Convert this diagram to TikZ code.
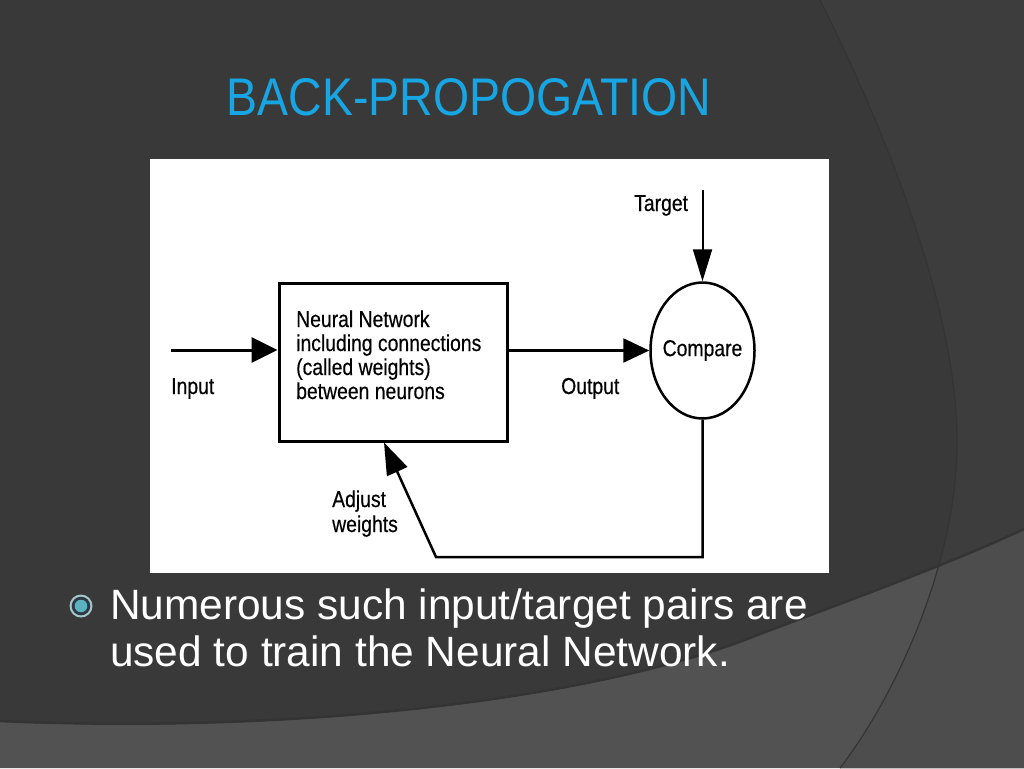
\documentclass[tikz,border=0pt]{standalone}
\usepackage{fontspec}
\setmainfont{Liberation Sans}
\newfontfamily\diagfont[FakeStretch=0.842,FakeBold=0.4]{Liberation Sans}
\newfontfamily\titlefont[FakeStretch=0.876]{Liberation Sans}
\usetikzlibrary{arrows.meta,shapes.geometric}
\definecolor{bgdark}{HTML}{393939}
\definecolor{bgright}{HTML}{3D3D3D}
\definecolor{bgbottom}{HTML}{525252}
\definecolor{bgbottomright}{HTML}{4D4D4D}
\definecolor{edgeshade}{HTML}{343434}
\definecolor{titlecyan}{HTML}{17A6E3}
\definecolor{ringlight}{HTML}{A6C6CA}
\definecolor{ringdark}{HTML}{2D3944}
\definecolor{dotcyan}{HTML}{5AB3BF}
\tikzset{
  dlabel/.style={font=\diagfont\fontsize{23}{24}\selectfont, text=black, inner sep=0pt, anchor=base west},
  blockbox/.style={draw=black, line width=3pt, minimum width=228pt, minimum height=158pt, inner sep=0pt},
  cmpnode/.style={ellipse, draw=black, line width=2.5pt, minimum width=104pt, minimum height=136pt,
    inner xsep=-8pt, inner ysep=0pt, font=\diagfont\fontsize{23}{24}\selectfont},
  flow/.style={line width=2.5pt, -{Triangle[length=26pt,width=24pt]}},
  flowthin/.style={line width=2pt, -{Triangle[length=32pt,width=19pt]}},
  flowfb/.style={line width=2.5pt, line join=miter, -{Triangle[length=32pt,width=22pt]}},
  bodytext/.style={font=\fontsize{42.4}{47}\selectfont, text=white, inner sep=0pt, anchor=base west},
  titletext/.style={font=\titlefont\fontsize{53}{60}\selectfont, text=titlecyan, inner sep=0pt, anchor=base}
}
\begin{document}
\begin{tikzpicture}[x=1pt,y=-1pt]
\useasboundingbox (0,0) rectangle (1024,768);
% background
\fill[bgdark] (0,0) rectangle (1024,768);
\fill[bgright] (820,0) .. controls (900,160) and (960,330) .. (957,450)
  .. controls (955,560) and (900,690) .. (840,768) -- (1024,768) -- (1024,0) -- cycle;
\fill[bgbottom] (0,722) .. controls (300,735) and (600,700) .. (760,635)
  .. controls (880,590) and (960,560) .. (1024,530) -- (1024,768) -- (0,768) -- cycle;
\begin{scope}
  \clip (0,722) .. controls (300,735) and (600,700) .. (760,635)
  .. controls (880,590) and (960,560) .. (1024,530) -- (1024,768) -- (0,768) -- cycle;
  \fill[bgbottomright] (820,0) .. controls (900,160) and (960,330) .. (957,450)
  .. controls (955,560) and (900,690) .. (840,768) -- (1024,768) -- (1024,0) -- cycle;
\end{scope}
\draw[edgeshade, line width=1.2pt] (820,0) .. controls (900,160) and (960,330) .. (957,450)
  .. controls (955,560) and (900,690) .. (840,768);
\draw[edgeshade, line width=2.5pt] (0,721) .. controls (300,734) and (600,699) .. (760,634)
  .. controls (880,589) and (960,559) .. (1024,529);
% white panel
\fill[white] (150,159) rectangle (829,573);
% diagram
\node[blockbox] (box) at (393,362) {};
\node[dlabel] (nntext) at (296,327) {\vtop{\baselineskip=24pt\hbox{Neural Network}\hbox{including connections}\hbox{(called weights)}\hbox{between neurons}}};
\node[cmpnode] (cmp) at (702.5,350.5) {Compare};
\coordinate (inp) at (171,350);
\coordinate (tgt) at (702.5,190);
\coordinate (fb1) at (702.5,557);
\coordinate (fb2) at (436,557);
\draw[line width=3pt, -{Triangle[length=26pt,width=25pt]}] (inp) -- (inp -| box.west);
\draw[flow] (cmp.west -| box.east) -- (cmp.west);
\draw[flowthin] (tgt) -- (cmp.north);
\draw[flowfb] (cmp.south) -- (fb1) -- (fb2) -- ([xshift=-9pt]box.south);
\node[dlabel] (lbltarget) at (634,211) {Target};
\node[dlabel] (lblinput) at (171,394) {Input};
\node[dlabel] (lbloutput) at (561,394) {Output};
\node[dlabel] (lbladjust) at (332,507) {\vtop{\baselineskip=25pt\hbox{Adjust}\hbox{weights}}};
% title
\node[titletext] (title) at (469,115) {BACK-PROPOGATION};
% bullet
\fill[ringlight] (81,606) circle (11.5);
\fill[ringdark] (81,606) circle (9.3);
\fill[dotcyan] (81,606) circle (6.3);
\node[bodytext] (bullet) at (110,619) {\vtop{\baselineskip=47pt\hbox{Numerous such input/target pairs are}\hbox{used to train the Neural Network.}}};
\end{tikzpicture}
\end{document}
